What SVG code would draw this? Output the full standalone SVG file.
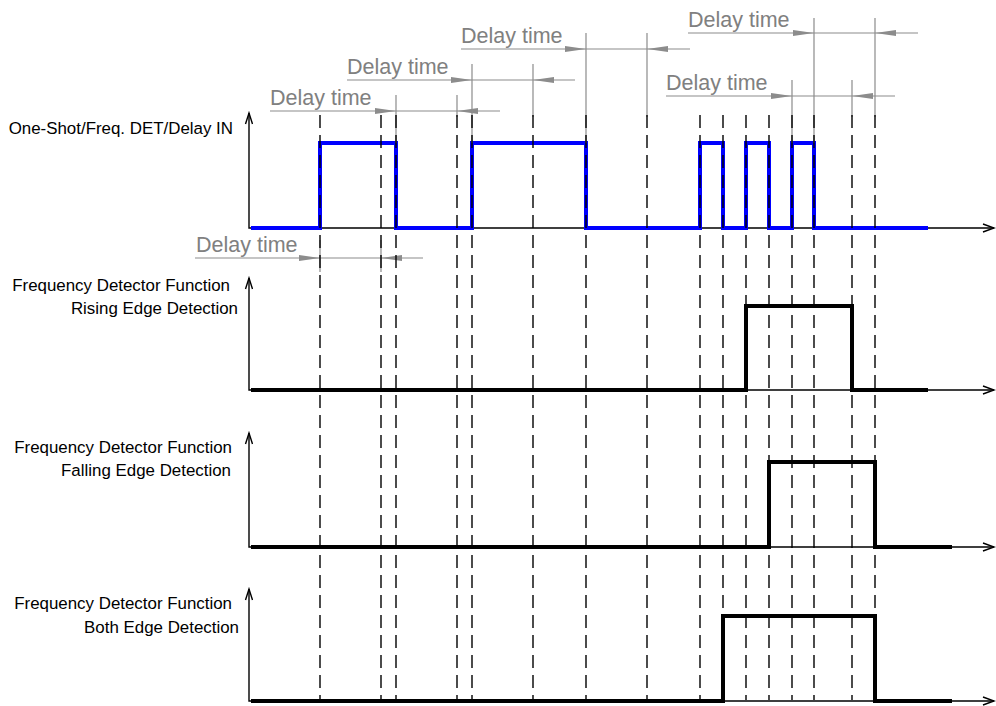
<svg xmlns="http://www.w3.org/2000/svg" width="996" height="706" viewBox="0 0 996 706">
<style>
.lbl{font-family:"Liberation Sans",Arial,sans-serif;font-size:16.9px;fill:#000;text-anchor:end}
.dt{font-family:"Liberation Sans",Arial,sans-serif;font-size:21.5px;fill:#808080}
.dim{stroke:#8c8c8c;stroke-width:1.2;fill:none}
.ah{fill:#8c8c8c;stroke:none}
.axis{stroke:#000;stroke-width:1.4;fill:none}
.chev{stroke:#000;stroke-width:1.4;fill:none}
.sig{stroke:#000;stroke-width:4;fill:none;stroke-linejoin:miter;stroke-linecap:butt}
.blue{stroke:#0000ff;stroke-width:4;fill:none;stroke-linejoin:miter}
.dash{stroke:#000;stroke-width:1.4;stroke-dasharray:13 7;fill:none}
</style>
<rect width="996" height="706" fill="#fff"/>
<g id="axes">
<path class="axis" d="M249,113 V228 H994 M249,278 V390 H994 M249,433 V547 H994 M249,589 V701 H994"/>
<path class="chev" d="M245.5,124 L249,113 L252.5,124 M245.5,289 L249,278 L252.5,289 M245.5,444 L249,433 L252.5,444 M245.5,600 L249,589 L252.5,600"/>
<path class="chev" d="M983,224 L994,228 L983,232 M983,386 L994,390 L983,394 M983,543 L994,547 L983,551 M983,697 L994,701 L983,705"/>
</g>
<g id="labels">
<text class="lbl" x="233" y="134">One-Shot/Freq. DET/Delay IN</text>
<text class="lbl" x="230" y="291">Frequency Detector Function</text>
<text class="lbl" x="238" y="314">Rising Edge Detection</text>
<text class="lbl" x="232" y="453">Frequency Detector Function</text>
<text class="lbl" x="231" y="476">Falling Edge Detection</text>
<text class="lbl" x="232" y="609">Frequency Detector Function</text>
<text class="lbl" x="239" y="633">Both Edge Detection</text>
</g>
<g id="signals">
<path id="sig-in" class="blue" d="M251,228 H320 V143 H396 V228 H472 V143 H586 V228 H700 V143 H723 V228 H746 V143 H769 V228 H792 V143 H814 V228 H928"/>
<path id="sig-rise" class="sig" d="M251,390 H746 V306 H852 V390 H928"/>
<path id="sig-fall" class="sig" d="M251,547 H769 V462 H875 V547 H952"/>
<path id="sig-both" class="sig" d="M251,701 H723 V616 H875 V701 H952"/>
</g>
<g id="dimensions">
<g id="dim1">
<path class="dim" d="M270,111 H500 M396,95 V143 M457,95 V117"/>
<polygon class="ah" points="375,108 396,111 375,114"/>
<polygon class="ah" points="478,108 457,111 478,114"/>
<text class="dt" x="270" y="105">Delay time</text>
</g>
<g id="dim2">
<path class="dim" d="M347,80 H575 M472,64 V143 M533,64 V117"/>
<polygon class="ah" points="451,77 472,80 451,83"/>
<polygon class="ah" points="554,77 533,80 554,83"/>
<text class="dt" x="347" y="74">Delay time</text>
</g>
<g id="dim3">
<path class="dim" d="M461,49 H690 M586,33 V143 M647,33 V117"/>
<polygon class="ah" points="565,46 586,49 565,52"/>
<polygon class="ah" points="668,46 647,49 668,52"/>
<text class="dt" x="461" y="43">Delay time</text>
</g>
<g id="dim4">
<path class="dim" d="M688,33 H918 M814,18 V143 M875,18 V117"/>
<polygon class="ah" points="793,30 814,33 793,36"/>
<polygon class="ah" points="896,30 875,33 896,36"/>
<text class="dt" x="688" y="27">Delay time</text>
</g>
<g id="dim5">
<path class="dim" d="M666,96 H895 M792,80 V143 M852,80 V117"/>
<polygon class="ah" points="771,93 792,96 771,99"/>
<polygon class="ah" points="873,93 852,96 873,99"/>
<text class="dt" x="666" y="90">Delay time</text>
</g>
<g id="dim6">
<path class="dim" d="M195,258 H423 M320,240 V272 M381,240 V272"/>
<polygon class="ah" points="299,255 320,258 299,261"/>
<polygon class="ah" points="402,255 381,258 402,261"/>
<text class="dt" x="196" y="252">Delay time</text>
</g>
</g>
<g id="connectors">
<path class="dash" d="M320,115 V700 M381,115 V700 M396,115 V700 M457,115 V700 M472,115 V700 M533,115 V700 M586,115 V700 M647,115 V700 M700,115 V700 M723,115 V700 M746,115 V700 M769,115 V700 M792,115 V700 M814,115 V700 M852,115 V700 M875,115 V700"/>
</g>
</svg>
